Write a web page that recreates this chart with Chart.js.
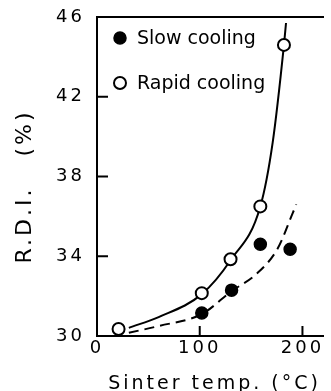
<!DOCTYPE html>
<html>
<head>
<meta charset="utf-8">
<script src="https://cdn.jsdelivr.net/npm/chart.js@4.4.0/dist/chart.umd.min.js"></script>
<style>
    html, body { margin: 0; padding: 0; background: #ffffff; }
    #wrap { width: 331px; height: 391px; }
</style>
</head>
<body>
<div id="wrap"><canvas id="rdiChart" width="331" height="391"></canvas></div>
<script>
const slowTemp = [102, 131, 159, 188];
const slowRdi = [31.15, 32.3, 34.6, 34.35];
const rapidTemp = [21, 102, 130, 159, 182];
const rapidRdi = [30.35, 32.15, 33.85, 36.5, 44.6];

// fitted curves
const rapidFitTemp = [31, 60, 102, 130, 159, 171, 182, 184];
const rapidFitRdi = [30.41, 30.95, 32.1, 33.8, 36.5, 39.7, 44.6, 45.7];
const slowFitTemp = [31, 60, 102, 131, 155, 176, 190, 194];
const slowFitRdi = [30.16, 30.5, 31.1, 32.25, 33.1, 34.4, 36.1, 36.6];

// axis ticks
const xTicks = [0, 100, 200];
const yTicks = [30, 34, 38, 42, 46];

const toXY = (xs, ys) => xs.map((x, i) => ({ x: x, y: ys[i] }));

// legend inside the plot area (upper left) + short inward tick marks
const innerLegend = {
    id: 'innerLegend',
    afterDraw(chart) {
        const ctx = chart.ctx;
        const area = chart.chartArea;
        ctx.save();
        ctx.letterSpacing = '0px';
        ctx.font = '19px "DejaVu Sans"';
        ctx.textBaseline = 'middle';
        [0, 1].forEach((i, row) => {
            const ds = chart.data.datasets[i];
            const cx = area.left + 23;
            const cy = area.top + 21 + row * 45;
            ctx.beginPath();
            ctx.arc(cx, cy, ds.pointRadius, 0, Math.PI * 2);
            ctx.fillStyle = ds.pointBackgroundColor;
            ctx.fill();
            ctx.lineWidth = ds.pointBorderWidth;
            ctx.strokeStyle = '#000';
            ctx.stroke();
            ctx.fillStyle = '#000';
            ctx.fillText(ds.label, area.left + 40, cy + 1);
        });

        const xs = chart.scales.x;
        const ys = chart.scales.y;
        ctx.strokeStyle = '#000';
        ctx.lineWidth = 2;
        ctx.beginPath();
        xTicks.forEach(v => {
            const px = xs.getPixelForValue(v);
            ctx.moveTo(px, area.bottom);
            ctx.lineTo(px, area.bottom - 10);
        });
        yTicks.forEach(v => {
            const py = ys.getPixelForValue(v);
            ctx.moveTo(area.left, py);
            ctx.lineTo(area.left + 11, py);
        });
        ctx.stroke();
        ctx.restore();
    }
};

// a bit of letter spacing for axis text
const spacing = {
    id: 'spacing',
    beforeDraw(chart) {
        chart.ctx.letterSpacing = '3px';
    }
};

new Chart(document.getElementById('rdiChart'), {
    type: 'scatter',
    data: {
        datasets: [
            {
                label: 'Slow cooling',
                data: toXY(slowTemp, slowRdi),
                pointRadius: 6,
                pointBackgroundColor: '#000',
                pointBorderColor: '#000',
                pointBorderWidth: 1.5,
                showLine: false
            },
            {
                label: 'Rapid cooling',
                data: toXY(rapidTemp, rapidRdi),
                pointRadius: 6,
                pointBackgroundColor: '#fff',
                pointBorderColor: '#000',
                pointBorderWidth: 2,
                showLine: false
            },
            {
                label: 'Rapid fit',
                data: toXY(rapidFitTemp, rapidFitRdi),
                showLine: true,
                pointRadius: 0,
                borderColor: '#000',
                borderWidth: 2,
                cubicInterpolationMode: 'monotone',
                order: 2
            },
            {
                label: 'Slow fit',
                data: toXY(slowFitTemp, slowFitRdi),
                showLine: true,
                pointRadius: 0,
                borderColor: '#000',
                borderWidth: 2,
                borderDash: [10, 6],
                cubicInterpolationMode: 'monotone',
                order: 2
            }
        ]
    },
    options: {
        responsive: false,
        animation: false,
        layout: { padding: { top: 17, right: 0, bottom: 0, left: 0 } },
        plugins: {
            legend: { display: false },
            tooltip: { enabled: false }
        },
        scales: {
            x: {
                type: 'linear',
                min: 0,
                max: 220,
                afterFit: function (scale) {
                    scale.height = 55;
                    scale.paddingLeft = 0;
                    scale.paddingRight = 0;
                },
                afterBuildTicks: function (scale) { scale.ticks = xTicks.map(v => ({ value: v })); },
                border: { display: true, color: '#000', width: 2 },
                grid: { display: false, drawTicks: false },
                ticks: {
                    padding: 2,
                    maxRotation: 0,
                    color: '#000',
                    font: { family: '"DejaVu Sans"', size: 18 }
                },
                title: {
                    display: true,
                    text: ' Sinter temp. (°C)',
                    color: '#000',
                    padding: { top: 0, bottom: -4 },
                    font: { family: '"DejaVu Sans"', size: 19 }
                }
            },
            xTop: {
                type: 'linear',
                position: 'top',
                min: 0,
                max: 220,
                afterFit: function (scale) {
                    scale.height = 0;
                    scale.paddingLeft = 0;
                    scale.paddingRight = 0;
                },
                border: { display: true, color: '#000', width: 2 },
                grid: { display: false },
                ticks: { display: false }
            },
            y: {
                min: 30,
                max: 46,
                afterFit: function (scale) {
                    scale.width = 97;
                    scale.paddingTop = 0;
                    scale.paddingBottom = 0;
                },
                afterBuildTicks: function (scale) { scale.ticks = yTicks.map(v => ({ value: v })); },
                border: { display: true, color: '#000', width: 2 },
                grid: { display: false, drawTicks: false },
                ticks: {
                    padding: 12,
                    color: '#000',
                    font: { family: '"DejaVu Sans"', size: 18 }
                },
                title: {
                    display: true,
                    text: 'R.D.I.   (%)  ',
                    color: '#000',
                    padding: { top: 12, bottom: 0 },
                    font: { family: '"DejaVu Sans"', size: 22 }
                }
            }
        }
    },
    plugins: [spacing, innerLegend]
});
</script>
</body>
</html>
